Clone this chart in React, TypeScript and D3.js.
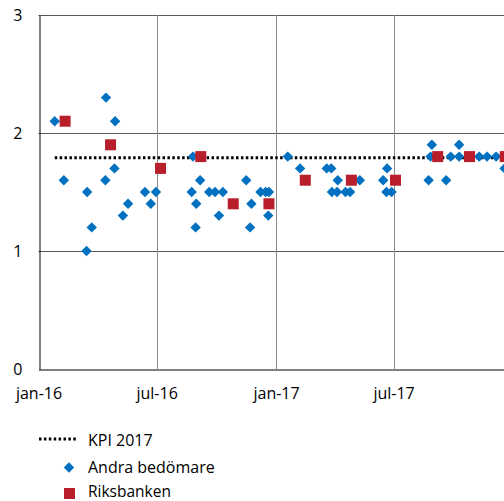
import { useEffect, useRef } from "react";
import * as d3 from "d3";

// Riksbankens prognoser för KPI 2017
const riksbankenDates = [
  "2016-02-11", "2016-04-21", "2016-07-07", "2016-09-07", "2016-10-27", "2016-12-21",
  "2017-02-15", "2017-04-27", "2017-07-04", "2017-09-07", "2017-10-26", "2017-12-20",
];
const riksbankenValues = [2.1, 1.9, 1.7, 1.8, 1.4, 1.4, 1.6, 1.6, 1.6, 1.8, 1.8, 1.8];

// Andra bedömares prognoser
const andraDates = [
  "2016-01-26", "2016-02-09", "2016-03-15", "2016-03-16", "2016-03-23", "2016-04-13",
  "2016-04-14", "2016-04-27", "2016-04-28", "2016-05-10", "2016-05-18", "2016-06-13",
  "2016-06-22", "2016-06-30", "2016-08-24", "2016-08-26", "2016-08-30", "2016-08-31",
  "2016-09-06", "2016-09-20", "2016-09-29", "2016-10-05", "2016-10-11", "2016-11-16",
  "2016-11-22", "2016-11-24", "2016-12-08", "2016-12-16", "2016-12-20", "2016-12-21",
  "2017-01-19", "2017-02-07", "2017-03-20", "2017-03-27", "2017-03-28", "2017-04-05",
  "2017-04-06", "2017-04-18", "2017-04-25", "2017-05-10", "2017-06-15", "2017-06-20",
  "2017-06-21", "2017-06-28", "2017-08-24", "2017-08-27", "2017-08-29", "2017-09-20",
  "2017-09-27", "2017-10-10", "2017-10-10", "2017-11-10", "2017-11-22", "2017-12-06",
  "2017-12-19",
];
const andraValues = [
  2.1, 1.6, 1.0, 1.5, 1.2, 1.6,
  2.3, 1.7, 2.1, 1.3, 1.4, 1.5,
  1.4, 1.5, 1.5, 1.8, 1.2, 1.4,
  1.6, 1.5, 1.5, 1.3, 1.5, 1.6,
  1.2, 1.4, 1.5, 1.5, 1.3, 1.5,
  1.8, 1.7, 1.7, 1.7, 1.5, 1.5,
  1.6, 1.5, 1.5, 1.6, 1.6, 1.5,
  1.7, 1.5, 1.6, 1.8, 1.9, 1.6,
  1.8, 1.9, 1.8, 1.8, 1.8, 1.8,
  1.7,
];

// Utfall KPI 2017
const kpi2017 = 1.79;
const kpiStart = "2016-01-26";
const kpiEnd = "2018-01-01";

const xTickDates = ["2016-01-01", "2016-07-01", "2017-01-01", "2017-07-01"];
const xTickLabels = ["jan-16", "jul-16", "jan-17", "jul-17"];
const yTicks = [0, 1, 2, 3];

const parse = d3.timeParse("%Y-%m-%d");
const BLUE = "#0070C0";
const RED = "#B81F2B";
const FONT = "'Open Sans', sans-serif";

const diamond = (r: number) => `M0,${-r}L${r},0L0,${r}L${-r},0Z`;

const Chart = () => {
  const svgRef = useRef<SVGSVGElement | null>(null);

  useEffect(() => {
    const svg = d3.select(svgRef.current);
    svg.selectAll("*").remove();

    const width = 504;
    const left = 38.5;
    const right = 513;
    const top = 15;
    const bottom = 369;

    const x = d3
      .scaleTime()
      .domain([parse("2016-01-01") as Date, parse("2018-01-01") as Date])
      .range([left, right]);
    const y = d3.scaleLinear().domain([0, 3]).range([bottom, top]);

    const g = svg.append("g");

    // horisontella stödlinjer
    g.selectAll(".hgrid")
      .data(yTicks.filter((d) => d > 0))
      .enter()
      .append("line")
      .attr("x1", left)
      .attr("x2", width)
      .attr("y1", (d) => Math.round(y(d)) + 0.5)
      .attr("y2", (d) => Math.round(y(d)) + 0.5)
      .attr("stroke", "#595959")
      .attr("stroke-width", 1);

    // vertikala stödlinjer
    g.selectAll(".vgrid")
      .data(xTickDates.slice(1))
      .enter()
      .append("line")
      .attr("x1", (d) => Math.round(x(parse(d) as Date)) + 0.5)
      .attr("x2", (d) => Math.round(x(parse(d) as Date)) + 0.5)
      .attr("y1", y(3))
      .attr("y2", y(0))
      .attr("stroke", "#8a8a8a")
      .attr("stroke-width", 1);

    // axlar
    const yAxis = g
      .append("g")
      .attr("transform", `translate(${Math.round(left) + 0.5},0)`)
      .call(d3.axisLeft(y).tickValues(yTicks).tickSize(0).tickPadding(17).tickFormat(d3.format("d")));
    yAxis.select(".domain").attr("stroke", "#000");

    const xAxis = g
      .append("g")
      .attr("transform", `translate(0,${Math.round(bottom) + 0.5})`)
      .call(
        d3
          .axisBottom(x)
          .tickValues(xTickDates.map((d) => parse(d) as Date))
          .tickSize(0)
          .tickPadding(18)
          .tickFormat((_, i) => xTickLabels[i])
      );
    xAxis.select(".domain").attr("stroke", "#000");

    svg
      .selectAll(".tick text")
      .attr("font-family", FONT)
      .attr("font-size", 16)
      .attr("fill", "#000");

    // KPI 2017
    g.append("line")
      .attr("x1", x(parse(kpiStart) as Date))
      .attr("x2", x(parse(kpiEnd) as Date))
      .attr("y1", y(kpi2017))
      .attr("y2", y(kpi2017))
      .attr("stroke", "#000")
      .attr("stroke-width", 3)
      .attr("stroke-dasharray", "2.5,2.4");

    // andra bedömare
    g.selectAll(".andra")
      .data(andraDates)
      .enter()
      .append("path")
      .attr("d", diamond(5.2))
      .attr("fill", BLUE)
      .attr("transform", (d, i) => `translate(${x(parse(d) as Date)},${y(andraValues[i])})`);

    // Riksbanken
    g.selectAll(".riks")
      .data(riksbankenDates)
      .enter()
      .append("rect")
      .attr("x", (d) => x(parse(d) as Date) - 5.5)
      .attr("y", (_, i) => y(riksbankenValues[i]) - 5.5)
      .attr("width", 11)
      .attr("height", 11)
      .attr("fill", RED);

    // teckenförklaring
    const legend = svg.append("g").attr("font-family", FONT).attr("font-size", 16);
    legend
      .append("line")
      .attr("x1", 39)
      .attr("x2", 77)
      .attr("y1", 439)
      .attr("y2", 439)
      .attr("stroke", "#000")
      .attr("stroke-width", 3)
      .attr("stroke-dasharray", "2.5,2.4");
    legend.append("text").attr("x", 88).attr("y", 446).text("KPI 2017");
    legend
      .append("path")
      .attr("d", diamond(5.2))
      .attr("fill", BLUE)
      .attr("transform", "translate(69,467.5)");
    legend.append("text").attr("x", 88).attr("y", 473).text("Andra bedömare");
    legend
      .append("rect")
      .attr("x", 64)
      .attr("y", 488)
      .attr("width", 11)
      .attr("height", 11)
      .attr("fill", RED);
    legend
      .append("text")
      .attr("x", 88)
      .attr("y", 497)
      .attr("font-size", 15.5)
      .text("Riksbanken");
  }, []);

  return (
    <svg
      ref={svgRef}
      width={504}
      height={501}
      style={{ position: "absolute", left: 0, top: 0, background: "#fff" }}
    ></svg>
  );
};

export default function App() {
  return <Chart />;
}
